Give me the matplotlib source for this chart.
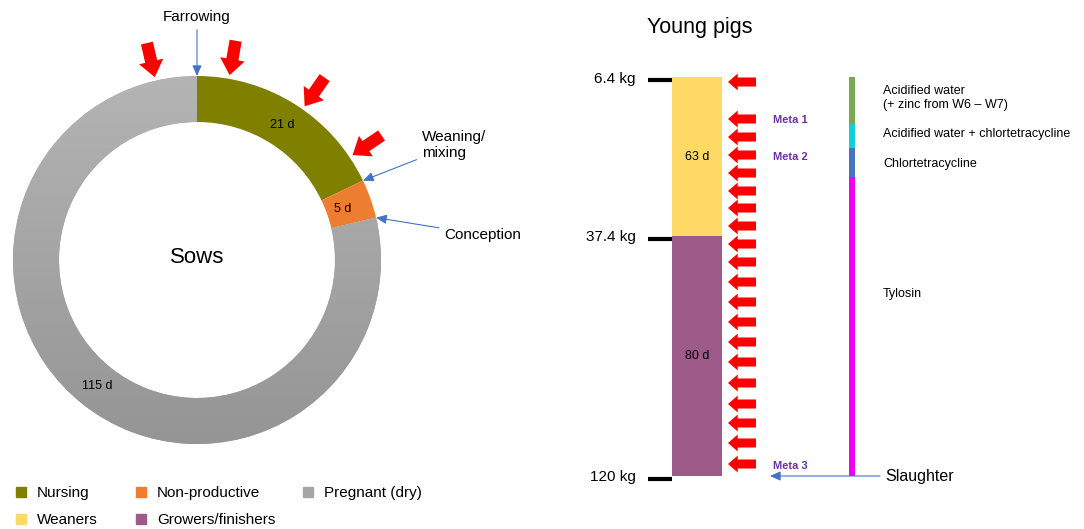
import numpy as np
import matplotlib
matplotlib.use("Agg")
import matplotlib.pyplot as plt
from matplotlib.lines import Line2D
from matplotlib.colors import LinearSegmentedColormap

plt.rcParams["font.family"] = ["Liberation Sans", "DejaVu Sans"]

# --- sows cycle (donut) ---
sow_phases = ["Nursing", "Non-productive", "Pregnant (dry)"]
sow_days = ["21 d", "5 d", "115 d"]
sow_arc = [17.9, 3.4, 78.7]          # share of the ring
sow_colors = ["#808000", "#ED7D31", "#A5A5A5"]
sow_events = ["Farrowing", "Weaning/\nmixing", "Conception"]
sow_treat_angles = [-13, 10, 35, 56]  # red arrows, deg clockwise from top

# --- young pigs timeline ---
pig_stages = ["Weaners", "Growers/finishers"]
pig_days = ["63 d", "80 d"]
pig_len = [159, 240]
pig_colors = ["#FFD966", "#9E5A88"]
weight_labels = ["6.4 kg", "37.4 kg", "120 kg"]
treat_pos = [5, 42, 60, 78, 96, 114, 131, 149, 167, 185,
             205, 225, 245, 265, 285, 306, 327, 346, 366, 387]
meta_labels = ["Meta 1", "Meta 2", "Meta 3"]
meta_pos = [43, 80, 389]
med_labels = ["Acidified water\n(+ zinc from W6 – W7)",
              "Acidified water + chlortetracycline",
              "Chlortetracycline", "Tylosin"]
med_start = [0, 47, 71, 100]
med_len = [47, 24, 29, 299]
med_label_pos = [21, 57, 87, 217]
med_colors = ["#77A852", "#10CFD8", "#4A72C2", "#F000F0"]

W, H = 1084, 529
fig = plt.figure(figsize=(W / 100, H / 100), dpi=100)

blue = "#4472C4"

# ---------------- left: donut ----------------
ax1 = fig.add_axes([0, 59 / H, 540 / W, 470 / H])
wedges, _ = ax1.pie(sow_arc, colors=sow_colors, startangle=90, counterclock=False,
                    radius=1, wedgeprops=dict(width=0.25, edgecolor="none"))

# gray gradient on the pregnant part
grad = np.linspace(0, 1, 256).reshape(-1, 1)
cmap = LinearSegmentedColormap.from_list("g", ["#959595", "#B4B4B4"])
img = ax1.imshow(grad, extent=[-1, 1, -1, 1], origin="lower", cmap=cmap,
                 aspect="auto", zorder=2)
img.set_clip_path(wedges[2])


def pol(theta, r):
    t = np.deg2rad(theta)
    return r * np.cos(t), r * np.sin(t)


for w, lab in zip(wedges, sow_days):
    mid = (w.theta1 + w.theta2) / 2
    r = 0.84 if lab == "5 d" else 0.87
    x, y = pol(mid, r)
    ax1.text(x, y, lab, ha="center", va="center", fontsize=9, zorder=5)

ax1.text(0, 0.015, "Sows", ha="center", va="center", fontsize=16)

for a in sow_treat_angles:
    th = 90 - a
    ax1.annotate("", xy=pol(th, 1.02), xytext=pol(th, 1.21),
                 arrowprops=dict(arrowstyle="simple,head_width=0.85,head_length=0.55,tail_width=0.42",
                                 color="red", lw=0, shrinkA=0, shrinkB=0, mutation_scale=21))

event_angles = [wedges[0].theta2, wedges[0].theta1, wedges[1].theta1]
event_text_xy = [(0.0, 1.32), (1.397, 0.625), (1.554, 0.136)]
for lab, th, xy in zip(sow_events, event_angles, event_text_xy):
    ax1.annotate(lab, xy=pol(th, 1.0), xytext=xy, ha="center", va="center",
                 multialignment="left", fontsize=11, annotation_clip=False,
                 arrowprops=dict(arrowstyle="-|>,head_length=0.45,head_width=0.2",
                                 color=blue, lw=0.8, shrinkB=0, mutation_scale=14))

ax1.set_xlim(-197 / 184, 343 / 184)
ax1.set_ylim(-210 / 184, 260 / 184)
ax1.axis("off")

# ---------------- right: young pigs ----------------
ax2 = fig.add_axes([540 / W, 0, 544 / W, 1])
ax2.set_xlim(540, 1084)
ax2.set_ylim(452, -77)
ax2.axis("off")

bounds = np.concatenate([[0], np.cumsum(pig_len)])
ax2.bar(697, pig_len, bottom=bounds[:-1], width=50, color=pig_colors)
for b0, b1, lab in zip(bounds[:-1], bounds[1:], pig_days):
    ax2.text(697, (b0 + b1) / 2, lab, ha="center", va="center", fontsize=9)

ax2.hlines(bounds + 3, 648, 672, color="black", lw=3)
for b, lab in zip(bounds, weight_labels):
    ax2.text(636, b + 1.5, lab, ha="right", va="center", fontsize=11)

for y in treat_pos:
    ax2.annotate("", xy=(728, y), xytext=(756, y),
                 arrowprops=dict(arrowstyle="simple,head_width=1.22,head_length=0.7,tail_width=0.65",
                                 color="red", lw=0, shrinkA=0, shrinkB=0, mutation_scale=10))

for y, lab in zip(meta_pos, meta_labels):
    ax2.text(773, y, lab, ha="left", va="center", fontsize=8,
             fontweight="bold", color="#7030A0")

ax2.bar(852, med_len, bottom=med_start, width=6, color=med_colors)
for y, lab in zip(med_label_pos, med_labels):
    ax2.text(883, y, lab, ha="left", va="center", fontsize=9, linespacing=1.15)

ax2.annotate("", xy=(770, bounds[-1]), xytext=(880, bounds[-1]),
             arrowprops=dict(arrowstyle="-|>,head_length=0.45,head_width=0.2",
                             color=blue, lw=0.8, shrinkA=0, shrinkB=0, mutation_scale=14))
ax2.text(885, bounds[-1], "Slaughter", ha="left", va="center", fontsize=11.5)

ax2.text(700, -49, "Young pigs", ha="center", va="center", fontsize=15.5)

# ---------------- legend ----------------
legend_x = [16, 136, 303]
for i, x in enumerate(legend_x):
    items = [(sow_phases[i], sow_colors[i])]
    if i < len(pig_stages):
        items.append((pig_stages[i], pig_colors[i]))
    handles = [Line2D([], [], ls="none", marker="s", ms=6.5, mfc=c, mec=c, label=n)
               for n, c in items]
    fig.legend(handles=handles, loc="upper left", bbox_to_anchor=(x / W, 1 - 486 / H),
               frameon=False, fontsize=11, handlelength=0.6, handletextpad=0.77,
               borderpad=0, borderaxespad=0, labelspacing=0.87)

fig.savefig("out.png", dpi=100)
